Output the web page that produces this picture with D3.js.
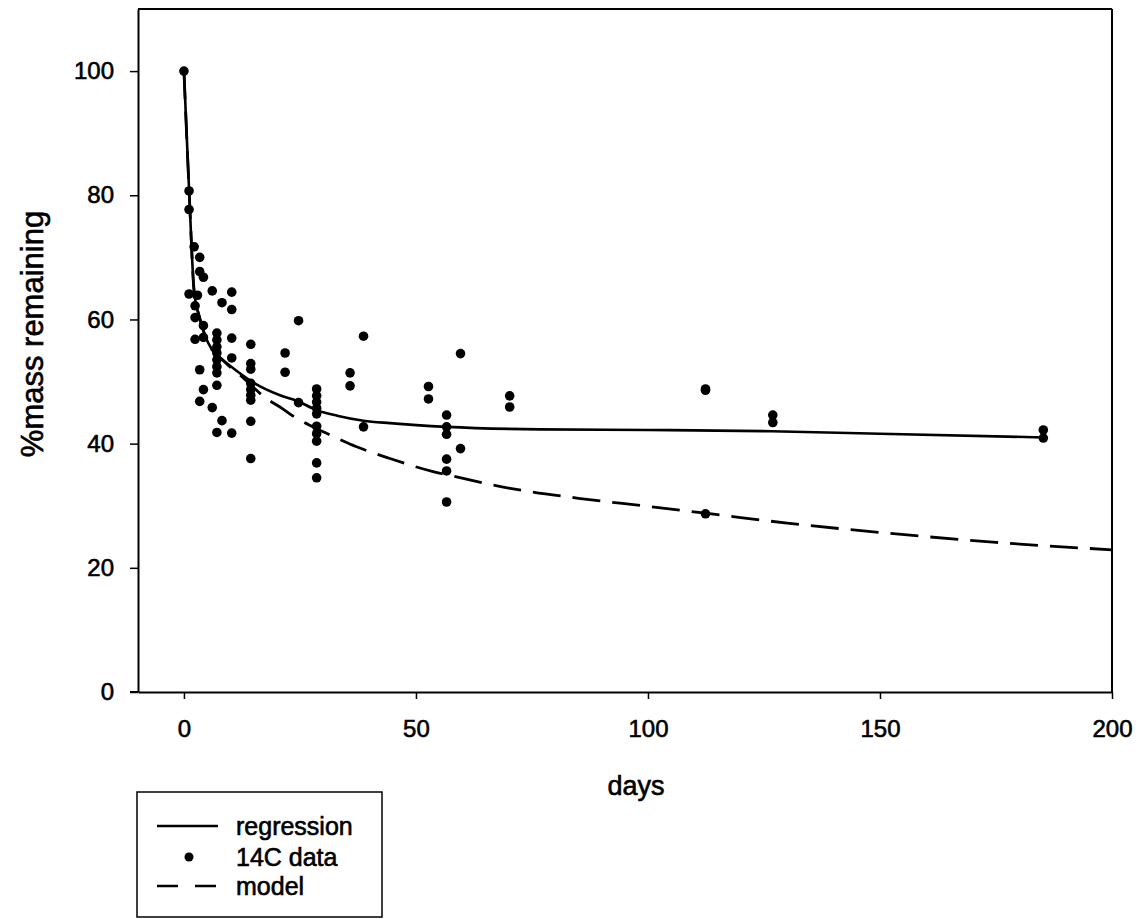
<!DOCTYPE html>
<html>
<head>
<meta charset="utf-8">
<script src="https://cdn.jsdelivr.net/npm/d3@7"></script>
<style>
  html, body { margin: 0; padding: 0; background: #fff; }
  svg { display: block; }
  text { font-family: "Liberation Sans", Arial, sans-serif; fill: #000; stroke: #000; stroke-width: 0.6px; }
</style>
</head>
<body>
<script>
// ---- data ----
const pointDays = [
  0,
  1.1, 1.1, 1.1,
  2.2,
  2.4, 2.4, 2.4,
  2.9,
  3.4, 3.4, 3.4, 3.4,
  4.2, 4.2, 4.2, 4.2,
  6.1, 6.1,
  7.1, 7.1, 7.1, 7.1, 7.1, 7.1, 7.1, 7.1, 7.1,
  8.2, 8.2,
  10.3, 10.3, 10.3, 10.3, 10.3,
  14.4, 14.4, 14.4, 14.4, 14.4, 14.4, 14.4, 14.4, 14.4,
  21.8, 21.8,
  24.7, 24.7,
  28.6, 28.6, 28.6, 28.6, 28.6, 28.6, 28.6, 28.6, 28.6, 28.6,
  35.8, 35.8,
  38.7, 38.7,
  52.7, 52.7,
  56.6, 56.6, 56.6, 56.6, 56.6, 56.6,
  59.6, 59.6,
  70.2, 70.2,
  112.4, 112.4, 112.4,
  126.9, 126.9,
  185.2, 185.2
];
const pointValues = [
  100,
  80.7, 77.7, 64.1,
  71.7,
  62.2, 60.3, 56.8,
  63.9,
  70.0, 67.7, 51.9, 46.8,
  66.8, 59.0, 57.1, 48.7,
  64.6, 45.8,
  57.8, 56.7, 55.6, 54.6, 53.5, 52.4, 51.4, 49.4, 41.8,
  62.7, 43.7,
  64.4, 61.6, 57.0, 53.8, 41.7,
  56.0, 52.9, 52.0, 49.7, 48.7, 47.8, 47.0, 43.6, 37.6,
  54.6, 51.5,
  59.8, 46.6,
  48.8, 47.7, 46.7, 45.7, 44.8, 42.8, 41.6, 40.4, 36.9, 34.5,
  51.4, 49.3,
  57.3, 42.7,
  49.2, 47.2,
  44.6, 42.7, 41.5, 37.5, 35.6, 30.6,
  54.5, 39.2,
  47.7, 45.9,
  48.8, 48.6, 28.7,
  44.6, 43.4,
  42.2, 40.9
];

const regressionDays   = [0, 1.1, 2.2, 3.3, 4.5, 6, 8, 10, 14.4, 20.7, 24.3, 28.6, 33, 38.7, 44.4, 56.6, 76.7, 100, 126.6, 150, 185.2];
const regressionValues = [100, 81, 64.5, 60.5, 57.5, 55.2, 53.7, 52.5, 50.1, 47.8, 46.9, 45.4, 44.5, 43.7, 43.3, 42.7, 42.3, 42.2, 42.0, 41.6, 41.0];

const modelDays   = [0, 1.1, 2.2, 3.3, 4.5, 6, 8, 10, 12.5, 14.5, 17.5, 20.7, 24, 27.5, 31.5, 37.2, 44.4, 53.7, 56.6, 70.3, 85, 100, 112.4, 130, 150, 175, 200];
const modelValues = [100, 81, 64.5, 60.5, 57.5, 55.2, 53.7, 52.3, 50.8, 49.4, 47.4, 45.9, 44.2, 42.8, 41.4, 39.5, 37.6, 35.5, 35.0, 32.8, 31.2, 29.9, 28.8, 27.2, 25.7, 24.1, 22.9];

const xTicks = [0, 50, 100, 150, 200];
const yTicks = [0, 20, 40, 60, 80, 100];
const xTitle = "days";
const yTitle = "%mass remaining";
const legendLabels = ["regression", "14C data", "model"];

// ---- drawing ----
const W = 1148, H = 919;
const svg = d3.select("body").append("svg").attr("width", W).attr("height", H);

const x = d3.scaleLinear().domain([-9.9, 200]).range([138, 1112]);
const y = d3.scaleLinear().domain([0, 110]).range([692, 9]);

// frame top & right
svg.append("line").attr("x1", 138).attr("x2", 1112).attr("y1", y(110)).attr("y2", y(110))
  .attr("stroke", "#000").attr("stroke-width", 2);
svg.append("line").attr("x1", 1112).attr("x2", 1112).attr("y1", y(110)).attr("y2", y(0))
  .attr("stroke", "#000").attr("stroke-width", 2);

// axes
const yAxis = svg.append("g").attr("transform", "translate(138,0)")
  .call(d3.axisLeft(y).tickValues(yTicks).tickSize(8).tickSizeOuter(0).tickPadding(16).tickFormat(d3.format("d")));
const xAxis = svg.append("g").attr("transform", "translate(0,692)")
  .call(d3.axisBottom(x).tickValues(xTicks).tickSize(7).tickSizeOuter(0).tickPadding(21).tickFormat(d3.format("d")));
[yAxis, xAxis].forEach(g => {
  g.select(".domain").attr("stroke", "#000").attr("stroke-width", 2);
  g.selectAll(".tick line").attr("stroke", "#000").attr("stroke-width", 1.5);
  g.selectAll(".tick text").attr("font-size", 24).attr("font-family", "Liberation Sans, Arial, sans-serif").attr("fill", "#000");
});
svg.append("line").attr("x1", 130).attr("x2", 138).attr("y1", 692).attr("y2", 692).attr("stroke", "#000").attr("stroke-width", 2);

// titles
svg.append("text").attr("x", 636).attr("y", 795).attr("text-anchor", "middle").attr("font-size", 27).text(xTitle);
svg.append("text").attr("transform", "translate(43,334) rotate(-90)").attr("text-anchor", "middle").attr("font-size", 31).text(yTitle);

// curves
const line = d3.line().x(d => x(d[0])).y(d => y(d[1])).curve(d3.curveMonotoneX);
const regData = regressionDays.map((d, i) => [d, regressionValues[i]]);
const modData = modelDays.map((d, i) => [d, modelValues[i]]);

svg.append("path").datum(modData).attr("d", line).attr("fill", "none")
  .attr("stroke", "#000").attr("stroke-width", 2.8).attr("stroke-dasharray", "28,12");
svg.append("path").datum(regData).attr("d", line).attr("fill", "none")
  .attr("stroke", "#000").attr("stroke-width", 2.6);

// points
svg.append("g").selectAll("circle").data(pointDays.map((d, i) => [d, pointValues[i]]))
  .join("circle").attr("cx", d => x(d[0])).attr("cy", d => y(d[1])).attr("r", 4.8).attr("fill", "#000");

// legend
const lg = svg.append("g");
lg.append("rect").attr("x", 137).attr("y", 792).attr("width", 245).attr("height", 125)
  .attr("fill", "none").attr("stroke", "#000").attr("stroke-width", 1.5);
const rows = [826, 857, 886];
lg.append("line").attr("x1", 157).attr("x2", 218).attr("y1", rows[0]).attr("y2", rows[0]).attr("stroke", "#000").attr("stroke-width", 2.4);
lg.append("circle").attr("cx", 189).attr("cy", rows[1]).attr("r", 4.5).attr("fill", "#000");
lg.append("line").attr("x1", 157).attr("x2", 218).attr("y1", rows[2]).attr("y2", rows[2]).attr("stroke", "#000").attr("stroke-width", 2.4).attr("stroke-dasharray", "21,17");
legendLabels.forEach((t, i) => {
  lg.append("text").attr("x", 236).attr("y", rows[i]).attr("dy", "0.35em").attr("font-size", 25).text(t);
});
</script>
</body>
</html>
